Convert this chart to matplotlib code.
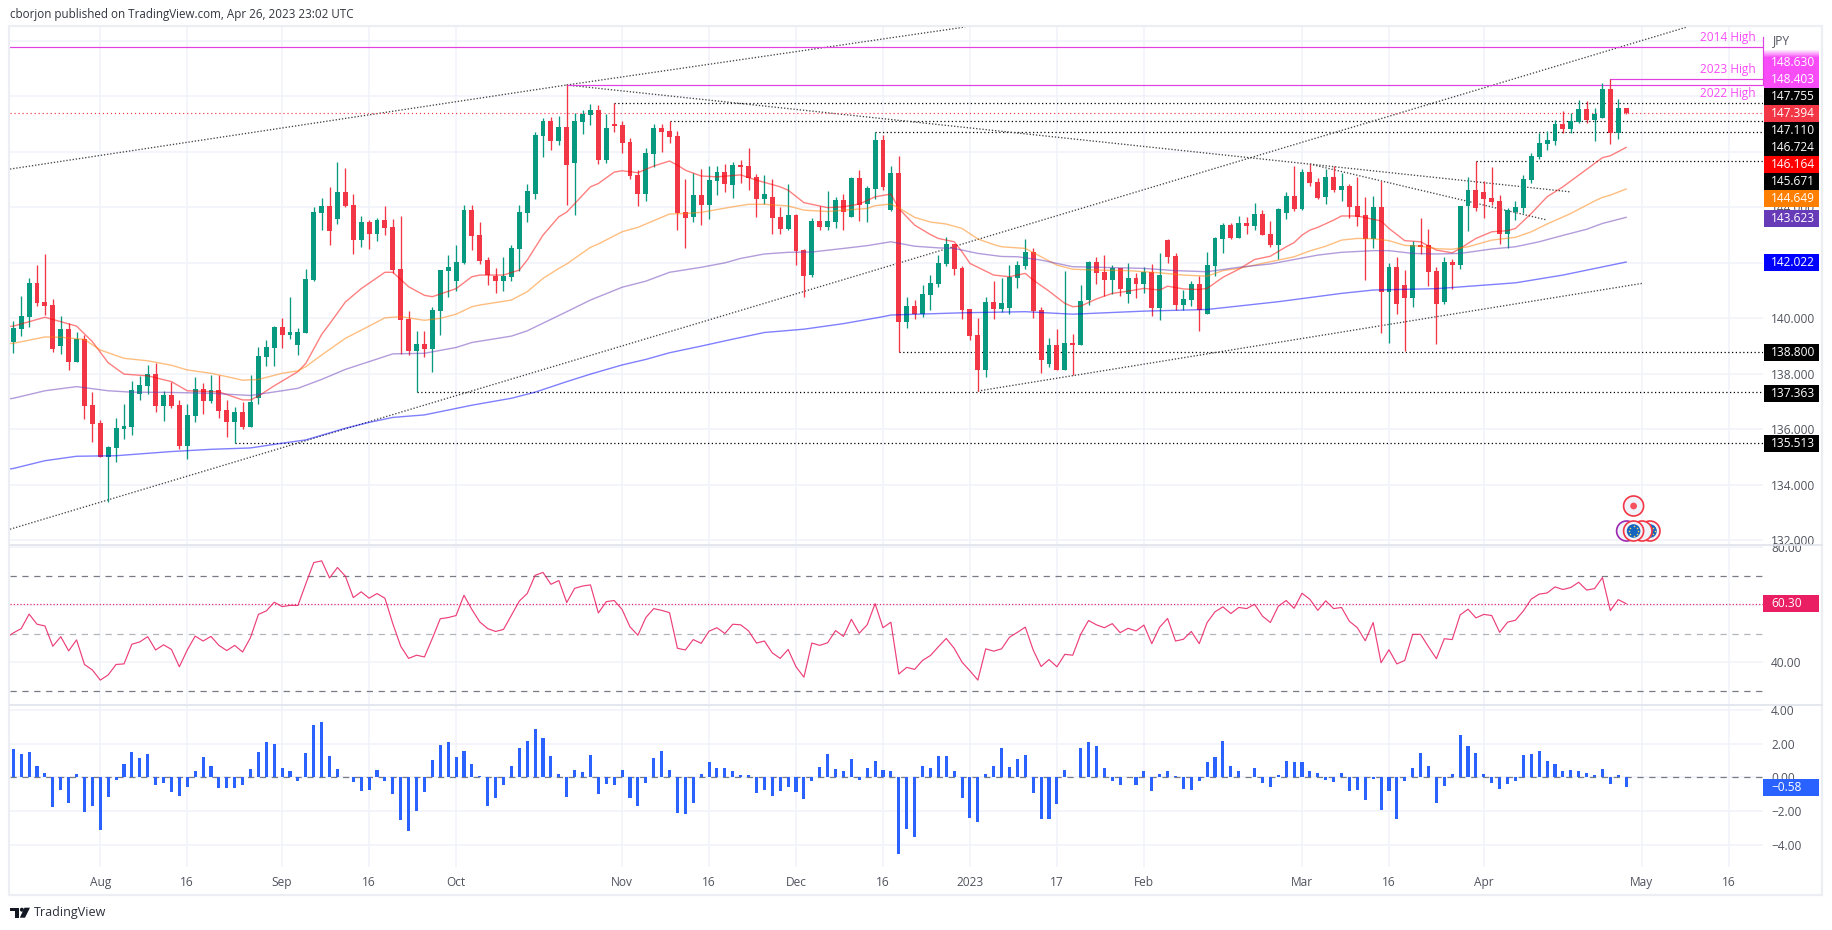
import matplotlib
matplotlib.use('Agg')
import matplotlib.pyplot as plt
from matplotlib.patches import Rectangle, Circle, Polygon
import numpy as np

plt.rcParams['font.family'] = ['Open Sans', 'DejaVu Sans']

# daily USD/JPY candles
opens = [139.15, 139.62, 140.05, 141.27, 140.59, 140.48, 139.00, 139.62, 138.43, 139.25, 136.88, 136.23, 135.00, 135.33, 136.01, 136.08, 137.27, 137.56, 137.99, 136.84,
         137.24, 136.88, 135.40, 136.48, 137.45, 137.02, 137.42, 136.70, 136.27, 136.62, 136.08, 137.13, 138.61, 138.93, 139.69, 139.40, 139.04, 139.47, 141.38, 143.79,
         144.05, 143.58, 144.55, 144.08, 142.82, 143.47, 143.04, 143.54, 143.29, 141.78, 139.98, 138.82, 139.07, 138.90, 140.26, 141.70, 141.34, 141.99, 143.90, 143.00,
         142.10, 141.52, 141.34, 141.49, 142.50, 143.79, 144.48, 146.57, 147.11, 146.39, 146.89, 145.60, 147.07, 147.33, 147.51, 145.70, 147.00, 146.96, 146.35, 145.16,
         144.48, 145.92, 146.86, 146.75, 146.57, 143.83, 143.65, 144.44, 144.08, 144.95, 145.27, 144.80, 145.52, 145.49, 145.09, 144.30, 144.37, 143.65, 143.22, 143.72,
         142.46, 141.56, 143.51, 143.29, 143.47, 144.26, 143.65, 145.06, 144.12, 144.66, 146.43, 143.90, 145.24, 139.87, 140.44, 140.15, 140.84, 141.24, 141.96, 142.68,
         141.81, 140.33, 139.40, 138.14, 140.59, 140.33, 140.37, 141.45, 141.88, 142.39, 140.30, 138.35, 139.04, 138.14, 139.11, 139.04, 140.66, 142.03, 141.67, 141.38,
         141.81, 140.87, 141.45, 141.24, 141.67, 140.37, 142.82, 142.25, 140.48, 140.66, 141.24, 140.15, 141.88, 142.86, 143.36, 142.89, 143.43, 143.33, 143.76, 143.04,
         142.64, 143.80, 144.41, 143.94, 145.27, 144.91, 144.37, 145.09, 144.62, 144.77, 144.05, 143.72, 142.86, 144.01, 140.95, 141.85, 141.20, 140.73, 142.64, 142.64,
         141.70, 140.59, 142.03, 141.92, 144.05, 144.62, 144.55, 144.34, 144.23, 143.04, 143.83, 143.97, 144.98, 145.81, 146.28, 146.39, 147.00, 146.82, 147.07, 147.54,
         147.15, 147.22, 148.26, 146.68, 147.58]
highs = [139.90, 140.80, 141.45, 141.92, 142.32, 140.70, 140.08, 139.83, 139.51, 139.40, 137.35, 136.34, 135.40, 136.41, 136.91, 137.74, 137.92, 138.32, 138.39, 137.38,
         137.70, 137.06, 136.91, 137.89, 137.67, 137.96, 137.96, 137.06, 136.80, 136.98, 137.96, 138.97, 139.22, 139.72, 140.01, 140.77, 139.65, 141.78, 144.01, 144.34,
         144.73, 145.63, 145.42, 144.48, 143.69, 143.54, 143.61, 144.05, 143.58, 143.69, 140.26, 139.54, 139.54, 140.41, 141.74, 142.28, 142.64, 144.08, 144.08, 143.47,
         142.21, 141.81, 142.21, 142.64, 144.08, 144.84, 146.71, 147.22, 147.25, 147.29, 148.41, 147.40, 147.51, 147.72, 147.69, 147.36, 147.76, 147.11, 146.50, 145.34,
         146.14, 147.00, 147.00, 147.11, 146.75, 145.02, 145.24, 145.38, 145.49, 145.49, 145.56, 145.63, 145.70, 146.14, 145.20, 145.16, 145.02, 144.01, 144.84, 143.76,
         142.50, 143.61, 144.05, 144.59, 144.37, 144.48, 145.09, 145.34, 144.77, 146.71, 146.60, 145.49, 145.85, 140.77, 140.66, 141.20, 141.56, 142.28, 142.93, 142.68,
         141.88, 140.33, 140.01, 140.77, 141.34, 141.45, 141.92, 142.06, 142.86, 142.53, 140.41, 139.29, 139.62, 141.70, 139.43, 141.20, 142.06, 142.21, 142.28, 141.92,
         141.81, 141.99, 141.63, 141.85, 141.96, 142.35, 142.86, 142.35, 141.02, 141.34, 141.52, 142.39, 142.93, 143.43, 143.43, 143.69, 143.65, 144.15, 143.90, 143.51,
         143.97, 144.55, 145.49, 145.38, 145.56, 145.06, 145.38, 145.49, 145.24, 144.84, 145.09, 144.37, 144.41, 144.95, 141.99, 142.21, 141.74, 142.79, 143.61, 143.22,
         141.85, 142.21, 142.14, 144.05, 145.09, 145.67, 144.95, 145.45, 144.44, 143.98, 144.23, 145.16, 145.96, 146.68, 146.75, 147.15, 147.47, 147.40, 147.87, 147.83,
         147.58, 148.48, 148.63, 147.90, 147.58]
lows = [138.76, 139.36, 139.69, 140.44, 140.12, 138.79, 138.72, 138.14, 138.43, 136.37, 135.54, 135.00, 133.38, 134.82, 135.65, 135.79, 137.06, 137.27, 136.62, 136.30,
        136.77, 135.29, 134.93, 136.27, 136.55, 136.95, 136.41, 135.72, 135.50, 136.01, 136.08, 136.91, 138.28, 138.28, 138.93, 139.25, 138.68, 139.47, 141.34, 143.18,
        142.64, 143.40, 144.01, 142.32, 142.57, 142.50, 142.79, 143.00, 141.63, 138.72, 138.68, 137.36, 138.61, 138.07, 139.40, 140.77, 141.00, 141.96, 142.46, 141.96,
        141.20, 140.91, 140.98, 141.34, 141.70, 143.47, 144.30, 145.81, 146.06, 146.24, 144.08, 143.72, 146.64, 146.97, 145.56, 145.60, 146.71, 145.96, 145.02, 144.05,
        144.23, 145.45, 145.99, 146.32, 143.18, 142.53, 143.47, 143.36, 143.58, 144.44, 144.55, 144.34, 144.88, 144.62, 143.65, 144.12, 143.04, 143.04, 143.18, 141.92,
        140.77, 141.49, 143.18, 143.18, 143.25, 143.18, 143.65, 143.51, 143.47, 144.30, 144.62, 143.87, 138.80, 139.65, 139.97, 140.05, 140.30, 141.13, 141.88, 141.56,
        139.97, 139.22, 137.38, 137.88, 139.97, 140.23, 140.15, 141.09, 141.78, 140.01, 138.03, 138.25, 138.14, 138.14, 137.96, 139.04, 140.48, 141.24, 140.80, 140.87,
        140.80, 140.55, 140.73, 140.91, 140.08, 139.94, 141.99, 140.30, 140.30, 140.44, 139.54, 140.15, 141.52, 142.35, 142.86, 142.89, 143.04, 143.18, 143.00, 142.57,
        142.14, 143.58, 143.87, 143.90, 144.77, 144.30, 144.12, 144.55, 144.23, 143.61, 143.33, 141.38, 142.52, 139.47, 139.11, 140.16, 138.82, 140.41, 142.32, 141.16,
        139.07, 140.52, 141.06, 141.78, 143.15, 143.87, 143.61, 144.10, 142.68, 142.53, 143.54, 143.79, 144.88, 145.74, 146.07, 146.25, 146.68, 146.68, 147.04, 147.04,
        146.39, 147.22, 146.28, 146.46, 147.36]
closes = [139.65, 140.08, 141.27, 140.55, 140.44, 138.90, 139.62, 138.43, 139.25, 136.84, 136.19, 135.00, 135.36, 136.05, 136.12, 137.42, 137.60, 137.99, 136.84, 137.24,
          136.84, 135.40, 136.52, 137.45, 137.02, 137.42, 136.66, 136.27, 136.62, 136.08, 136.98, 138.64, 138.97, 139.69, 139.40, 139.51, 139.51, 141.42, 143.83, 144.05,
          143.15, 144.55, 144.05, 142.82, 143.47, 143.04, 143.54, 143.26, 141.74, 139.94, 138.82, 139.07, 138.90, 140.30, 141.74, 141.85, 142.03, 143.90, 142.97, 142.07,
          141.56, 141.34, 141.52, 142.53, 143.83, 144.59, 146.60, 147.11, 146.39, 146.89, 145.53, 147.11, 147.36, 147.51, 145.70, 146.86, 146.93, 146.32, 145.13, 144.48,
          145.96, 146.86, 146.71, 146.53, 143.80, 143.61, 144.44, 144.08, 144.98, 145.27, 144.84, 145.52, 145.45, 145.06, 144.30, 144.48, 143.61, 143.22, 143.72, 142.42,
          141.52, 143.51, 143.29, 143.51, 144.26, 143.83, 145.06, 144.08, 144.70, 146.43, 144.73, 145.24, 139.87, 140.44, 140.15, 140.87, 141.27, 141.99, 142.68, 141.78,
          140.30, 139.36, 138.14, 140.59, 140.33, 140.55, 141.49, 141.92, 142.39, 140.26, 138.50, 139.04, 138.14, 139.11, 139.04, 140.62, 142.03, 141.63, 141.38, 141.81,
          141.06, 141.45, 141.24, 141.67, 140.37, 141.56, 142.21, 140.48, 140.69, 141.24, 140.30, 141.92, 142.89, 143.36, 142.89, 143.43, 143.33, 143.76, 143.00, 142.64,
          143.94, 144.41, 143.94, 145.27, 144.88, 144.34, 145.09, 144.62, 144.77, 144.01, 143.65, 142.86, 144.01, 140.95, 141.85, 140.52, 140.73, 142.64, 142.57, 141.67,
          140.52, 142.03, 141.92, 144.05, 144.62, 143.97, 144.30, 144.19, 143.04, 143.90, 144.01, 145.02, 145.85, 146.32, 146.43, 147.00, 146.82, 147.11, 147.54, 147.15,
          147.36, 148.26, 146.68, 147.58, 147.394]

# moving averages, read at the turning points of each line
ema20_idx = [-1, 0, 4, 8, 10, 12, 14, 17, 20, 22, 26, 29, 30, 31, 33, 36, 37, 39, 40, 42, 44, 47, 48, 50, 52, 53, 56, 58, 59, 62, 64, 65, 67, 69, 70, 73, 74, 76, 77, 79, 81, 83, 84, 85, 87, 89, 92, 94, 97, 98, 100, 102, 103, 105, 107, 109, 111, 112, 114, 116, 117, 119, 120, 121, 122, 124, 126, 127, 128, 129, 131, 133, 134, 135, 137, 139, 141, 143, 145, 146, 148, 150, 151, 153, 155, 157, 159, 161, 162, 163, 164, 165, 167, 168, 170, 173, 174, 176, 178, 180, 182, 183, 185, 187, 189, 190, 192, 194, 196, 198, 200, 201, 202, 204]
ema20_val = [139.70, 139.72, 140.04, 139.72, 139.16, 138.40, 137.99, 137.93, 137.72, 137.39, 137.35, 137.06, 137.06, 137.20, 137.57, 138.08, 138.38, 139.42, 139.80, 140.59, 141.07, 141.66, 141.66, 141.14, 140.83, 140.78, 141.07, 141.50, 141.56, 141.56, 141.74, 142.10, 143.00, 143.66, 143.83, 144.74, 144.86, 145.27, 145.32, 145.25, 145.49, 145.67, 145.52, 145.34, 145.13, 145.10, 145.17, 144.98, 144.74, 144.62, 144.17, 144.05, 143.99, 144.02, 144.12, 144.38, 144.48, 143.96, 143.36, 143.02, 142.88, 142.76, 142.40, 141.98, 141.84, 141.56, 141.50, 141.56, 141.62, 141.38, 140.98, 140.54, 140.42, 140.44, 140.70, 140.90, 140.98, 141.08, 141.02, 141.16, 141.06, 141.04, 141.08, 141.48, 141.77, 142.12, 142.24, 142.58, 142.73, 143.00, 143.18, 143.28, 143.54, 143.69, 143.69, 143.51, 143.24, 142.80, 142.76, 142.46, 142.36, 142.52, 142.88, 143.12, 143.16, 143.24, 143.78, 144.38, 144.74, 145.16, 145.58, 145.79, 145.86, 146.16]
ema50_idx = [-1, 0, 4, 6, 9, 11, 14, 17, 20, 22, 25, 27, 29, 31, 34, 36, 37, 39, 42, 45, 47, 49, 52, 54, 56, 58, 59, 63, 65, 67, 69, 70, 73, 74, 77, 79, 80, 83, 85, 87, 91, 93, 95, 98, 100, 103, 105, 108, 109, 111, 112, 114, 116, 118, 120, 122, 124, 125, 128, 130, 132, 134, 137, 141, 145, 148, 151, 153, 155, 158, 162, 164, 166, 168, 170, 172, 174, 176, 178, 180, 182, 184, 187, 190, 192, 194, 197, 200, 201, 202, 204]
ema50_val = [139.08, 139.10, 139.33, 139.32, 139.24, 138.86, 138.56, 138.47, 138.31, 138.14, 138.02, 137.90, 137.77, 137.80, 138.02, 138.11, 138.26, 138.68, 139.28, 139.72, 140.02, 140.06, 139.93, 140.00, 140.15, 140.42, 140.48, 140.66, 140.96, 141.44, 141.80, 141.96, 142.56, 142.68, 143.12, 143.28, 143.40, 143.76, 143.78, 143.82, 144.02, 144.11, 144.11, 144.05, 143.90, 143.85, 143.90, 143.96, 144.06, 144.12, 143.98, 143.64, 143.47, 143.40, 143.24, 142.86, 142.66, 142.58, 142.52, 142.22, 141.92, 141.77, 141.74, 141.72, 141.64, 141.56, 141.52, 141.72, 141.80, 141.98, 142.22, 142.43, 142.60, 142.82, 142.88, 142.87, 142.80, 142.63, 142.60, 142.51, 142.49, 142.58, 142.82, 142.92, 143.12, 143.40, 143.78, 144.23, 144.36, 144.44, 144.66]
ema100_idx = [-1, 0, 4, 8, 12, 15, 20, 25, 30, 34, 36, 39, 42, 45, 48, 52, 56, 58, 63, 65, 70, 73, 77, 80, 83, 87, 90, 92, 95, 98, 101, 105, 108, 111, 114, 117, 119, 122, 125, 127, 130, 134, 136, 143, 147, 151, 155, 159, 162, 165, 168, 172, 174, 177, 180, 183, 187, 190, 193, 196, 199, 201, 204]
ema100_val = [137.08, 137.12, 137.39, 137.54, 137.39, 137.34, 137.33, 137.30, 137.22, 137.39, 137.48, 137.80, 138.16, 138.44, 138.72, 138.74, 138.95, 139.13, 139.36, 139.55, 140.24, 140.66, 141.12, 141.34, 141.66, 141.84, 142.00, 142.16, 142.32, 142.38, 142.39, 142.52, 142.62, 142.76, 142.60, 142.54, 142.52, 142.34, 142.23, 142.22, 142.10, 141.86, 141.85, 141.80, 141.72, 141.68, 141.84, 141.96, 142.12, 142.28, 142.38, 142.44, 142.44, 142.34, 142.32, 142.34, 142.50, 142.58, 142.76, 142.99, 143.21, 143.42, 143.64]
ema200_idx = [-1, 0, 4, 8, 13, 20, 25, 30, 34, 37, 42, 45, 48, 52, 58, 63, 66, 70, 73, 77, 80, 83, 87, 91, 95, 100, 105, 110, 111, 120, 128, 134, 143, 151, 160, 168, 172, 180, 190, 196, 204]
ema200_val = [134.55, 134.59, 134.87, 135.03, 135.05, 135.20, 135.28, 135.33, 135.50, 135.62, 136.04, 136.25, 136.43, 136.52, 136.87, 137.12, 137.34, 137.72, 137.99, 138.32, 138.52, 138.76, 139.00, 139.25, 139.49, 139.61, 139.81, 140.06, 140.12, 140.20, 140.24, 140.15, 140.26, 140.32, 140.60, 140.90, 141.02, 141.07, 141.28, 141.56, 142.03]

# RSI, first value belongs to the bar just left of the frame
rsi = [48.3, 50.2, 51.7, 56.7, 53.2, 52.6, 45.6, 48.9, 44.0, 47.8, 39.3, 37.4, 33.9, 35.7, 39.3, 39.5, 46.3, 47.1, 48.9, 44.3, 46.1,
       44.5, 38.5, 44.3, 49.1, 47.4, 49.0, 45.9, 44.1, 45.9, 43.6, 48.6, 56.6, 57.8, 60.8, 59.3, 59.7, 59.7, 67.2, 74.5, 75.1,
       69.2, 72.8, 69.8, 62.4, 64.4, 62.2, 63.8, 62.2, 53.4, 45.6, 41.4, 42.5, 41.9, 48.3, 55.1, 55.5, 56.2, 63.2, 58.3, 54.0,
       51.7, 50.7, 51.4, 56.3, 61.2, 63.8, 70.1, 71.1, 67.0, 68.3, 60.7, 65.6, 66.4, 66.8, 57.1, 61.0, 61.4, 58.3, 52.3, 49.4,
       55.5, 58.6, 58.0, 57.2, 44.9, 44.3, 47.9, 46.6, 50.8, 52.0, 50.0, 53.2, 53.0, 50.9, 46.7, 47.4, 43.3, 41.4, 44.5, 38.5,
       34.9, 46.7, 45.9, 46.8, 51.0, 49.0, 54.9, 50.1, 53.0, 60.3, 52.0, 53.9, 36.0, 38.3, 37.6, 40.7, 42.4, 45.4, 48.3, 44.9,
       40.1, 37.1, 33.9, 44.7, 43.9, 44.7, 48.7, 50.4, 52.2, 44.3, 38.6, 41.0, 38.5, 42.8, 42.5, 49.7, 54.5, 53.0, 52.0, 53.4,
       50.3, 51.8, 50.9, 52.9, 46.5, 52.2, 55.2, 47.4, 48.0, 50.7, 46.5, 53.8, 57.5, 59.2, 56.9, 59.0, 58.6, 60.1, 56.0, 53.8,
       59.4, 61.4, 58.7, 63.9, 61.8, 58.0, 61.3, 58.6, 59.0, 54.2, 52.0, 47.5, 53.8, 39.9, 44.4, 39.5, 40.7, 49.7, 49.7, 45.4,
       41.3, 48.2, 47.9, 56.4, 58.4, 55.4, 56.6, 56.2, 50.4, 53.9, 54.6, 57.8, 61.9, 63.6, 64.0, 66.1, 65.2, 65.9, 67.7, 65.0,
       65.5, 69.3, 57.9, 61.7, 60.3]

macd_hist = [1.68, 1.39, 1.50, 0.67, 0.26, -1.74, -0.73, -1.50, 0.20, -2.04, -1.68, -3.11, -1.15, -0.16, 0.79, 1.50, 1.15, 1.39, -0.44, -0.32,
             -0.85, -1.09, -0.55, 0.38, 1.21, 0.67, -0.61, -0.61, -0.61, -0.44, 0.50, 1.50, 2.10, 1.98, 0.55, 0.38, -0.20, 1.45, 3.11, 3.29,
             1.27, 0.50, 0.02, -0.26, -0.79, -0.73, 0.44, -0.20, -0.97, -2.51, -3.17, -1.98, -0.85, 1.03, 1.92, 2.10, 1.21, 1.56, 0.79, 0.08,
             -1.68, -1.21, -0.44, 0.67, 1.74, 2.16, 2.87, 2.34, 1.27, 0.20, -1.15, 0.44, 0.32, 1.33, -0.97, -0.38, -0.44, 0.44, -1.21, -1.68,
             -0.32, 1.15, 1.56, 0.44, -2.10, -2.16, -1.50, 0.20, 0.91, 0.55, 0.55, 0.38, 0.14, 0.14, -0.91, -0.73, -1.09, -0.79, -0.55, -0.85,
             -1.27, -0.20, 0.61, 1.39, 0.50, 0.38, 1.09, -0.16, 0.55, 0.97, 0.44, 0.38, -4.53, -3.05, -3.52, 0.67, 0.55, 1.27, 1.27, 0.38,
             -1.21, -2.40, -2.63, 0.20, 0.67, 1.74, 0.61, 1.09, 1.33, -0.91, -2.46, -2.46, -1.56, 0.44, 0.02, 1.74, 2.10, 1.86, 0.55, -0.20,
             -0.44, 0.02, -0.44, 0.38, -0.79, 0.20, 0.38, 0.08, -0.67, -0.73, -0.20, 0.91, 1.21, 2.14, 0.67, 0.38, 0.02, 0.55, -0.32, -0.55,
             0.14, 0.97, 0.91, 0.91, 0.38, 0.26, -0.16, -0.26, 0.26, -0.79, -0.73, -1.33, -0.10, -1.92, -0.79, -2.46, -0.22, 0.55, 1.45, 0.67,
             -1.50, -0.50, 0.20, 2.51, 1.86, 1.45, 0.20, -0.32, -0.67, -0.38, -0.22, 1.33, 1.39, 1.56, 0.97, 0.79, 0.38, 0.44, 0.38, 0.26,
             0.14, 0.50, -0.38, 0.14, -0.58]

# drawn levels: (first bar, price)
dotted_levels = [(76, 147.755), (83, 147.11), (109, 146.724), (185, 145.671), (112, 138.80), (51, 137.363), (28, 135.513)]
high_levels = [(-1, 149.78), (70, 148.403), (202, 148.63)]
# trend lines: bar, price, bar, price
trend_lines = [(-0.42, 145.38, 70, 148.41), (70, 148.41, 120.4, 150.50), (70, 148.41, 196.9, 144.56), (164, 145.56, 193.9, 143.55),
               (-0.42, 132.40, 211.7, 150.50), (122, 137.38, 206, 141.26)]

# time axis
tick_bars = [11, 22, 34, 45, 56, 77, 88, 99, 110, 121, 132, 143, 163, 174, 186, 206, 217]
tick_names = ['Aug', '16', 'Sep', '16', 'Oct', 'Nov', '16', 'Dec', '16', '2023', '17', 'Feb', 'Mar', '16', 'Apr', 'May', '16']

# price scale tags
tag_text = ['148.630', '148.403', '147.755', '147.394', '147.110', '146.724', '146.164', '145.671', '144.649', '143.623', '142.022', '138.800', '137.363', '135.513']
tag_color = ['#f94cf9', '#f94cf9', '#000000', '#f23645', '#000000', '#000000', '#ff0000', '#000000', '#ff7f00', '#673ab7', '#0000ff', '#000000', '#000000', '#000000']
tag_y = [62.7, 79.3, 96.7, 113.7, 130.7, 147.7, 164.7, 181.7, 198.7, 218.7, 262.7, 352.3, 393, 443]

W, H = 1833, 930
GREEN = '#089981'
RED = '#f23645'
GRID = '#f0f3fa'
TXT = '#50535e'

fig = plt.figure(figsize=(W/100, H/100), dpi=100, facecolor='white')

def pane(top, bottom):
    a = fig.add_axes([10/W, 1-bottom/H, (1763-10)/W, (bottom-top)/H])
    a.set_xlim(-0.42, 221.31)
    for s in a.spines.values():
        s.set_visible(False)
    a.set_xticks(tick_bars)
    a.set_xticklabels([])
    a.yaxis.tick_right()
    a.tick_params(length=0, labelsize=8.6, labelcolor=TXT, pad=5.8)
    a.grid(True, color=GRID, lw=1.1)
    a.set_axisbelow(True)
    a.patch.set_alpha(0)
    return a

ax = pane(27, 544.5)
ax_rsi = pane(545.5, 705)
ax_macd = pane(706, 867)

# main pane, the round levels behind the tags keep their grid line but no text
ax.set_ylim(131.85, 150.50)
ax.set_yticks([132, 134, 136, 138, 140, 142, 144, 146, 148, 150])
ax.set_yticklabels(['132.000', '134.000', '136.000', '138.000', '140.000', '', '144.000', '', '', ''])

bars = np.arange(len(closes))
o = np.array(opens)
c = np.array(closes)
colors = [GREEN if c[i] >= o[i] else RED for i in bars]
ax.vlines(bars, lows, highs, colors=colors, lw=0.95, zorder=4)
ax.bar(bars, np.abs(c-o), bottom=np.minimum(o, c), width=0.62, color=colors, zorder=5, linewidth=0)

ax.plot(ema20_idx, ema20_val, color='#ff0000', alpha=0.5, lw=1.0, zorder=6)
ax.plot(ema50_idx, ema50_val, color='#ff7f00', alpha=0.5, lw=1.0, zorder=6)
ax.plot(ema100_idx, ema100_val, color='#673ab7', alpha=0.5, lw=1.0, zorder=6)
ax.plot(ema200_idx, ema200_val, color='#0000ff', alpha=0.5, lw=1.0, zorder=6)

for b, p in dotted_levels:
    ax.plot([b, 221.31], [p, p], color='black', lw=0.9, ls=(0, (1, 2)), zorder=3)
for x0, y0, x1, y1 in trend_lines:
    ax.plot([x0, x1], [y0, y1], color='#444444', lw=0.95, ls=(0, (1, 1.4)), zorder=3)
for b, p in high_levels:
    ax.plot([b, 221.31], [p, p], color='#e040e0', lw=0.85, zorder=3)
ax.axhline(closes[-1], color=RED, lw=0.85, ls=(0, (1, 2.4)), zorder=3)

# RSI pane
ax_rsi.set_ylim(25.3, 80.4)
ax_rsi.set_yticks([40, 60, 80])
ax_rsi.set_yticklabels(['40.00', '', '80.00'])
ax_rsi.plot(np.arange(len(rsi))-1, rsi, color='#e91e63', alpha=0.85, lw=0.85, zorder=4)
ax_rsi.axhline(70, color='#787b86', lw=0.9, ls=(0, (5, 4.5)))
ax_rsi.axhline(50, color='#b2b5be', lw=0.9, ls=(0, (5, 4.5)))
ax_rsi.axhline(30, color='#787b86', lw=0.9, ls=(0, (5, 4.5)))
ax_rsi.axhline(rsi[-1], color='#e91e63', lw=0.85, ls=(0, (1, 1.8)))

# MACD pane
ax_macd.set_ylim(-5.32, 4.23)
ax_macd.set_yticks([-4, -2, 0, 2, 4])
ax_macd.set_yticklabels(['\u22124.00', '\u22122.00', '0.00', '2.00', '4.00'])
ax_macd.axhline(0, color='#787b86', lw=0.9, ls=(0, (5, 4.5)))
ax_macd.bar(np.arange(len(macd_hist)), macd_hist, width=0.39, color='#2962ff', linewidth=0, zorder=4)
ax_macd.set_xticklabels(tick_names)
ax_macd.tick_params(axis='x', pad=6.5, labelsize=8.6, labelcolor=TXT)

# overlay in pixels for frame, tags and header
ov = fig.add_axes([0, 0, 1, 1], zorder=10)
ov.set_xlim(0, W)
ov.set_ylim(H, 0)
ov.axis('off')
ov.patch.set_alpha(0)

ov.add_patch(Rectangle((9.5, 26), 1812.5, 869, fill=False, ec='#eceef4', lw=1.6))
ov.plot([10, 1822], [544.7, 544.7], color='#e0e3eb', lw=1.2)
ov.plot([10, 1822], [705.3, 705.3], color='#e0e3eb', lw=1.2)
ov.plot([1763.3, 1763.3], [37, 85], color='#e040e0', lw=0.85)

for i in range(7):
    ov.add_patch(Rectangle((1763.6, 50+i), 55.4, 1, fc='#f94cf9', ec='none', alpha=(i+1)/8))
for s, col, y in zip(tag_text, tag_color, tag_y):
    top = 57 if y == tag_y[0] else y-8.5
    ov.add_patch(Rectangle((1763.6, top), 55.4, y+8.5-top, fc=col, ec='none'))
    ov.text(1771, y, s, color='white', fontsize=8.6, va='center', ha='left')
ov.add_patch(Rectangle((1763, 594.8), 56, 17, fc='#e91e63', ec='none'))
ov.text(1771, 603.3, '60.30', color='white', fontsize=8.6, va='center')
ov.add_patch(Rectangle((1763, 778.8), 56, 17, fc='#2962ff', ec='none'))
ov.text(1771, 787.3, '\u22120.58', color='white', fontsize=8.6, va='center')

ov.text(1773, 40.7, 'JPY', color=TXT, fontsize=8.6, va='center')
for s, y in [('2014 High', 37), ('2023 High', 69), ('2022 High', 94)]:
    ov.text(1756, y, s, color='#f94cf9', fontsize=8.6, va='center', ha='right')

ov.text(10, 14.7, 'cborjon published on TradingView.com, Apr 26, 2023 23:02 UTC', color='#333640', fontsize=8.35, va='center')
ov.text(33.5, 912.5, 'TradingView', color='#2a2e39', fontsize=9.0, va='center')

# TradingView mark
ov.add_patch(Polygon([(10, 907.7), (19.3, 907.7), (19.3, 917.7), (14.7, 917.7), (14.7, 910.9), (10, 910.9)], fc='#131722', ec='none'))
ov.add_patch(Circle((21.9, 909.7), 2.0, fc='#131722', ec='none'))
ov.add_patch(Polygon([(24.5, 907.7), (30, 907.7), (25, 917.7), (19.8, 917.7)], fc='#131722', ec='none'))

# event icons under the last bars
def eu_icon(x, y):
    ov.add_patch(Circle((x, y), 10, fc='#f0f3fa', ec='#f23645', lw=1.2))
    ov.add_patch(Circle((x, y), 6.8, fc='#1565c0', ec='none'))
    ang = np.linspace(0, 2*np.pi, 9)[:-1]
    ov.scatter(x+4.6*np.cos(ang), y+4.6*np.sin(ang), s=1.2, c='#ffd54f', linewidths=0)

ov.add_patch(Circle((1626.6, 531), 10, fc='#f0f3fa', ec='#9c27b0', lw=1.2))
eu_icon(1650, 531)
ov.add_patch(Circle((1642, 531), 10, fc='#f0f3fa', ec='#f23645', lw=1.2))
eu_icon(1633.6, 531)
ov.add_patch(Circle((1633.6, 506), 10, fc='#f0f3fa', ec='#f23645', lw=1.2))
ov.add_patch(Circle((1633.6, 506), 3.4, fc='#f7525f', ec='none'))

plt.savefig('out.png', dpi=100, facecolor='white')
plt.close()
